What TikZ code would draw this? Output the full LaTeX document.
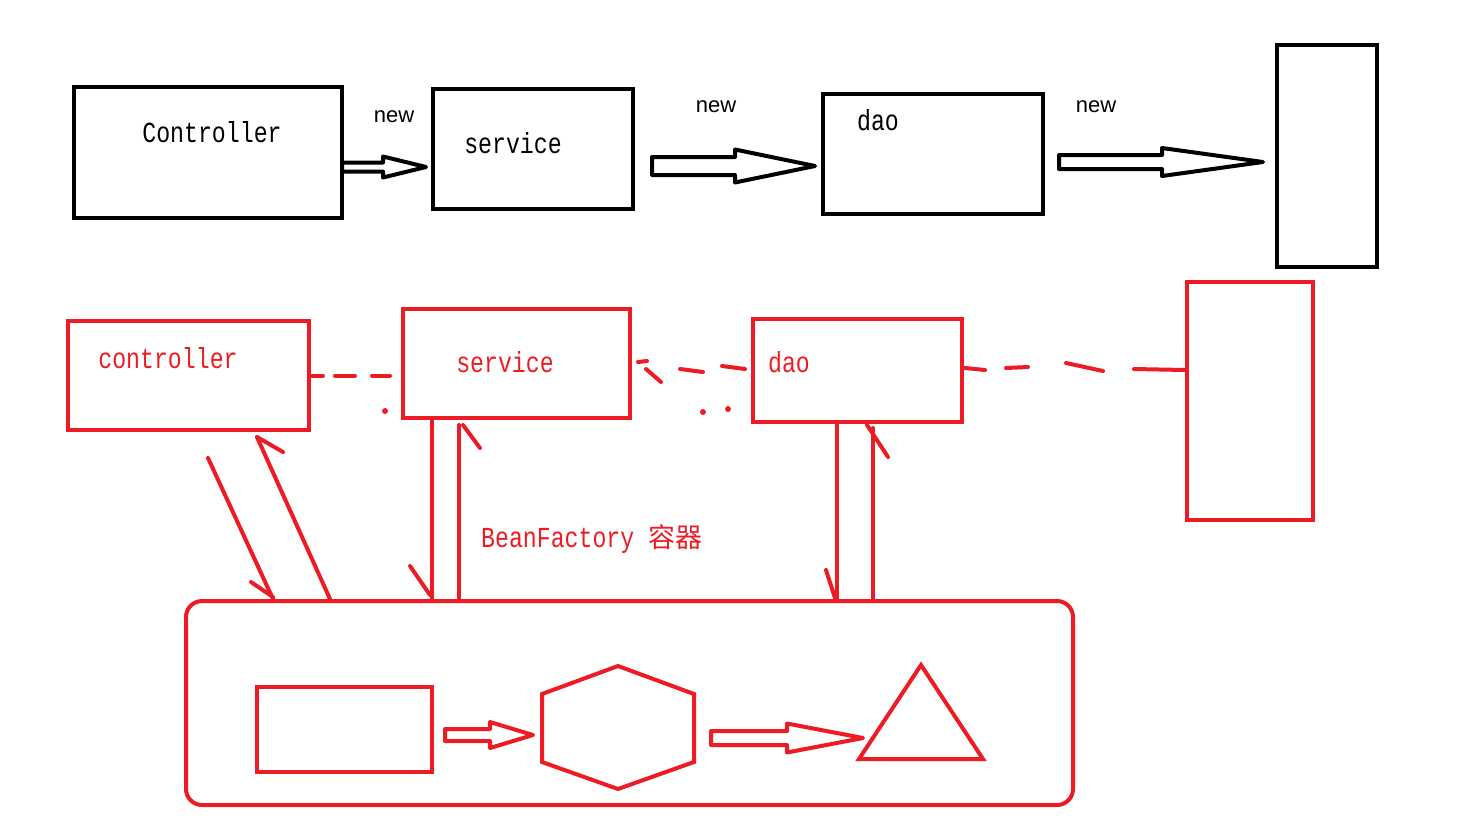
\documentclass[tikz,border=0pt]{standalone}
\usepackage{fontspec}
\setmainfont{Liberation Sans}
\setmonofont{Liberation Mono}[FakeStretch=0.8]
\newfontfamily\cjk{Noto Sans CJK SC}
\usepackage{xcolor}
\definecolor{paintred}{RGB}{237,28,36}
\usetikzlibrary{calc}

\tikzset{
 bbox/.style={draw=black, line width=4pt, inner sep=0pt},
 rbox/.style={draw=paintred, line width=4pt, inner sep=0pt},
 btext/.style={font=\fontsize{29}{29}\selectfont\ttfamily, text=black, inner sep=0pt},
 rtext/.style={font=\fontsize{29}{29}\selectfont\ttfamily, text=paintred, inner sep=0pt},
 newtext/.style={font=\fontsize{22}{22}\selectfont, inner sep=0pt},
 rline/.style={draw=paintred, line width=4pt, line cap=round},
 bfat/.style={draw=black, fill=white, line width=4pt, line join=round},
 rfat/.style={draw=paintred, fill=white, line width=4pt, line join=round},
}

\begin{document}
\begin{tikzpicture}[x=1pt, y=-1pt]
\useasboundingbox (0,0) rectangle (1463,823);

% top row: new
\node[bbox, minimum width=268pt, minimum height=131pt] (ctrl) at (208,152.5) {};
\node[bbox, minimum width=200pt, minimum height=120pt] (svc) at (533,149) {};
\node[bbox, minimum width=220pt, minimum height=120pt] (dao) at (933,154) {};
\node[bbox, minimum width=100pt, minimum height=222pt] (db) at (1327,156) {};

\node[btext] (ctrltxt) at (212,132) {Controller};
\node[btext] (svctxt) at (513,143) {service};
\node[btext] (daotxt) at (878,120) {dao};

\node[newtext] (new1) at (394,117) {new};
\node[newtext] (new2) at (716,107) {new};
\node[newtext] (new3) at (1096,107) {new};

\foreach \xa/\xb/\xc/\y/\s/\h in {342/383/426/167/4.5/10.5, 652/735/815/166/9/16.5, 1059/1162/1263/162/7/14}
	\draw[bfat] (\xa,\y-\s) -- (\xb,\y-\s) -- (\xb,\y-\h) -- (\xc,\y) -- (\xb,\y+\h) -- (\xb,\y+\s) -- (\xa,\y+\s) -- cycle;

% bottom row: BeanFactory
\node[rbox, minimum width=241pt, minimum height=109pt] (rctrl) at (188.5,375.5) {};
\node[rbox, minimum width=227pt, minimum height=109pt] (rsvc) at (516.5,363.5) {};
\node[rbox, minimum width=209pt, minimum height=103pt] (rdao) at (857.5,370.5) {};
\node[rbox, minimum width=126pt, minimum height=238pt] (rdb) at (1250,401) {};

\node[rtext] (rctrltxt) at (168,358) {controller};
\node[rtext] (rsvctxt) at (505,362) {service};
\node[rtext] (rdaotxt) at (789,362) {dao};

\draw[rline, dash pattern=on 12pt off 12pt on 20pt off 17pt on 18pt off 100pt] (rctrl.east) -- (rctrl.east -| rsvc.west);
\draw[rline] (722,366) -- (745,369);
\draw[rline] (680,369) -- (703,372);
\draw[rline] (646,369) -- (661,382);
\draw[rline] (638,362) -- (647,361);
\draw[rline] (965,368) -- (985,370);
\draw[rline] (1006,368) -- (1028,367);
\draw[rline] (1066,363) -- (1103,371);
\draw[rline] (1134,369) -- (rdb.west |- 0,370);

\foreach \x/\y in {385/411, 703/412, 728/409}
	\fill[paintred] (\x,\y) circle [radius=3pt];

\node[rbox, rounded corners=16pt, minimum width=887pt, minimum height=204pt] (bf) at (629.5,703) {};
\node[rtext, anchor=west] (bftxt) at (481,539) {BeanFactory {\cjk\fontsize{27}{27}\selectfont 容器}};

% controller <-> bf
\draw[rline] (208,458) -- (273,0 |- bf.north);
\draw[rline] (251,582) -- (273,597);
\draw[rline] (257,437) -- (330,0 |- bf.north);
\draw[rline] (257,437) -- (283,452);

% service <-> bf
\draw[rline] (432,0 |- rsvc.south) -- (432,0 |- bf.north);
\draw[rline] (410,566) -- (430,595);
\draw[rline] (459,425) -- (459,0 |- bf.north);
\draw[rline] (463,425) -- (480,448);

% dao <-> bf
\draw[rline] (837,0 |- rdao.south) -- (837,0 |- bf.north);
\draw[rline] (826,570) -- (835,598);
\draw[rline] (873,428) -- (873,0 |- bf.north);
\draw[rline] (867,425) -- (888,457);

% inside bf
\node[rbox, minimum width=175pt, minimum height=85pt] (brect) at (344.5,729.5) {};
\draw[rline, line join=miter] (618,666) -- (694,694) -- (694,762) -- (618,789) -- (542,762) -- (542,694) -- cycle;
\draw[rline, line join=miter] (921,665) -- (983,759) -- (859,759) -- cycle;

\foreach \xa/\xb/\xc/\y/\s/\h in {445/490/533/735/6/13, 711/787/863/738/7/14.5}
	\draw[rfat] (\xa,\y-\s) -- (\xb,\y-\s) -- (\xb,\y-\h) -- (\xc,\y) -- (\xb,\y+\h) -- (\xb,\y+\s) -- (\xa,\y+\s) -- cycle;

\end{tikzpicture}
\end{document}
